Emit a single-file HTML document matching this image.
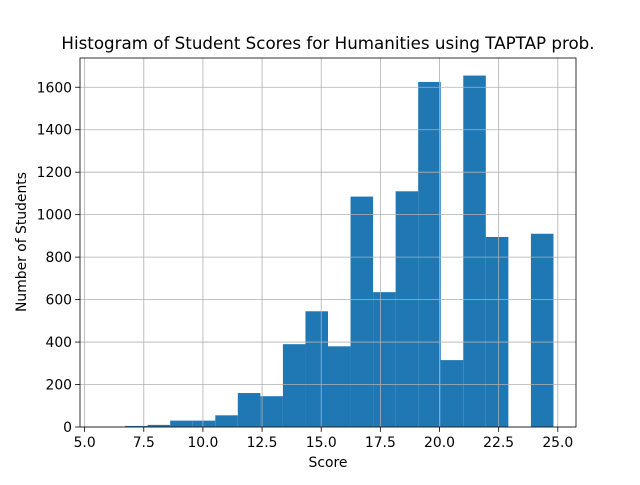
<!DOCTYPE html>
<html><head><meta charset="utf-8"><style>
body{margin:0;background:#fff;}
svg text{font-family:"DejaVu Sans","Liberation Sans",sans-serif;fill:#000;}
</style></head><body>
<svg id="chart" width="640" height="480" viewBox="0 0 640 480">
<rect x="0" y="0" width="640" height="480" fill="#fff"/>
<g id="bars"></g>
<g id="grid"></g>
<rect x="80" y="58" width="496" height="369" fill="none" stroke="#000" stroke-width="0.8"/>
<g id="xticks"></g>
<g id="yticks"></g>
<text x="328" y="49" font-size="16.7" text-anchor="middle">Histogram of Student Scores for Humanities using TAPTAP prob.</text>
<text x="328" y="467" font-size="13.9" text-anchor="middle">Score</text>
<text x="0" y="0" font-size="13.9" text-anchor="middle" transform="translate(26,242) rotate(-90)">Number of Students</text>
</svg>
<script>
const binStart = 5.757;
const binWidth = 0.953;
const counts = [0,5,10,30,30,55,160,145,390,545,380,1085,635,1110,1625,315,1655,895,0,910];
const xTicks = [5.0,7.5,10.0,12.5,15.0,17.5,20.0,22.5,25.0];
const yTicks = [0,200,400,600,800,1000,1200,1400,1600];
const NS="http://www.w3.org/2000/svg";
const X0=80,X1=576,Y0=427,Y1=58;
const lo=binStart, hi=binStart+binWidth*counts.length, pad=(hi-lo)*0.05;
const xmin=lo-pad, xmax=hi+pad;
const ymax=Math.max(...counts)*1.05;
const sx=v=>X0+(v-xmin)/(xmax-xmin)*(X1-X0);
const sy=v=>Y0-v/ymax*(Y0-Y1);
function mk(t,a){const e=document.createElementNS(NS,t);for(const k in a)e.setAttribute(k,a[k]);return e;}
const bars=document.getElementById('bars');
counts.forEach((c,i)=>{
  const x=sx(binStart+i*binWidth), x2=sx(binStart+(i+1)*binWidth);
  const r=mk('rect',{x:x,y:sy(c),width:x2-x,height:Y0-sy(c),fill:'#1f77b4'});
  
  
  bars.appendChild(r);
});
const grid=document.getElementById('grid'),xt=document.getElementById('xticks'),yt=document.getElementById('yticks');
xTicks.forEach(v=>{
  const x=sx(v);
  grid.appendChild(mk('line',{x1:x,x2:x,y1:Y1,y2:Y0,stroke:'#b0b0b0','stroke-width':0.8}));
  xt.appendChild(mk('line',{x1:x,x2:x,y1:Y0,y2:Y0+4.9,stroke:'#000','stroke-width':0.8}));
  const t=mk('text',{x:x,y:Y0+20,'font-size':13.9,'text-anchor':'middle'});t.textContent=v.toFixed(1);
  
  
  xt.appendChild(t);
});
yTicks.forEach(v=>{
  const y=sy(v);
  grid.appendChild(mk('line',{x1:X0,x2:X1,y1:y,y2:y,stroke:'#b0b0b0','stroke-width':0.8}));
  yt.appendChild(mk('line',{x1:X0-4.9,x2:X0,y1:y,y2:y,stroke:'#000','stroke-width':0.8}));
  const t=mk('text',{x:X0-8,y:y+5,'font-size':13.9,'text-anchor':'end'});t.textContent=v;
  
  
  yt.appendChild(t);
});
</script>
</body></html>
